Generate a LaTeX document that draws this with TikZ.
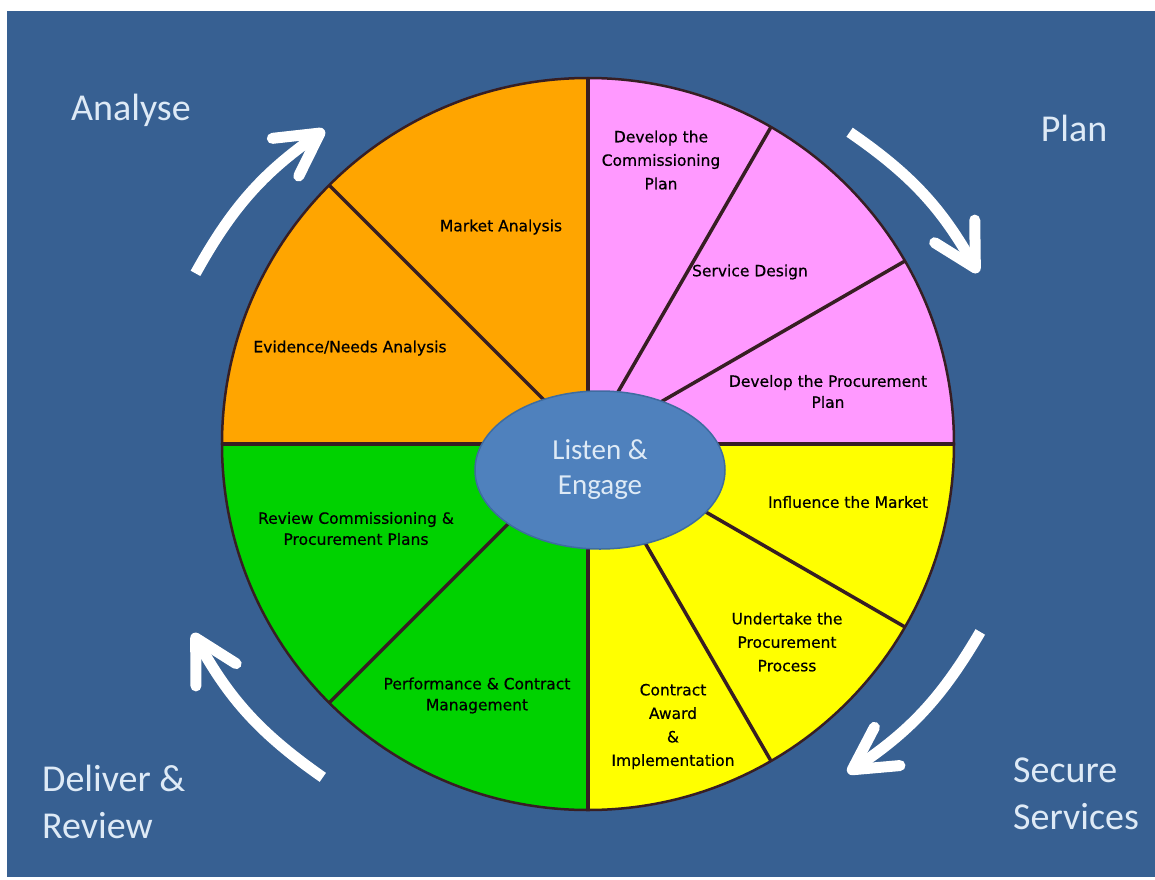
\documentclass[tikz,border=0pt]{standalone}
\usepackage{fontspec}
\setmainfont{DejaVu Sans}
\newfontfamily\sectfont[FakeBold=0.5]{DejaVu Sans}
\newfontfamily\calfont{Carlito}
\usetikzlibrary{arrows.meta,shapes.geometric}
\definecolor{bgblue}{RGB}{55,96,146}
\definecolor{orng}{RGB}{255,165,0}
\definecolor{pnk}{RGB}{255,153,255}
\definecolor{yllw}{RGB}{255,255,0}
\definecolor{grn}{RGB}{0,210,0}
\definecolor{hubblue}{RGB}{79,129,189}
\definecolor{hubline}{RGB}{62,108,160}
\definecolor{lbltext}{RGB}{222,234,246}
\definecolor{divline}{RGB}{55,30,35}

\begin{document}
\begin{tikzpicture}[x=1pt,y=1pt,
  sect/.style={align=center,inner sep=0pt,font=\sectfont\fontsize{15.5}{21}\selectfont},
  sectwide/.style={sect,font=\sectfont\fontsize{15.5}{23.5}\selectfont},
  phase/.style={align=left,inner sep=0pt,text=lbltext,font=\calfont\fontsize{38}{47}\selectfont},
  cyclearrow/.style={white,line width=11pt,-{Straight Barb[length=42pt,width=46pt,round]}}]
\useasboundingbox (-588,-435) rectangle (567,444);
\fill[white] (-588,-435) rectangle (567,444);
\fill[bgblue] (-581,-433) rectangle (567,433);
\fill[orng] (0,0) -- (90:366) arc (90:180:366) -- cycle;
\fill[grn] (0,0) -- (180:366) arc (180:270:366) -- cycle;
\fill[yllw] (0,0) -- (270:366) arc (270:360:366) -- cycle;
\fill[pnk] (0,0) -- (0:366) arc (0:90:366) -- cycle;
\foreach \a in {0,30,60,90,135,180,225,270,300,330}
  \draw[divline,line width=3.5pt] (0,0) -- (\a:366);
\draw[divline,line width=2.5pt] (0,0) circle (366);
\node (hub) at (12,-26) [ellipse,fill=hubblue,draw=hubline,line width=1.5pt,minimum width=250pt,minimum height=158pt,inner sep=0pt,align=center,text=lbltext,font=\calfont\fontsize{29}{35}\selectfont] {Listen \&\\Engage};
\node (market) at (-87,217) [sect] {Market Analysis};
\node (evidence) at (-238,96) [sect] {Evidence/Needs Analysis};
\node (commplan) at (73,284) [sectwide] {Develop the\\Commissioning\\Plan};
\node (design) at (162,172) [sect] {Service Design};
\node (procplan) at (240,52.5) [sect] {Develop the Procurement\\Plan};
\node (influence) at (260,-58) [sect] {Influence the Market};
\node (undertake) at (199,-198) [sectwide] {Undertake the\\Procurement\\Process};
\node (award) at (85,-282.5) [sectwide] {Contract\\Award\\\&\\Implementation};
\node (perform) at (-111,-251.5) [sect] {Performance \& Contract\\Management};
\node (review) at (-232,-84.5) [sect] {Review Commissioning \&\\Procurement Plans};
\node (analyse) at (-457,334) [phase] {Analyse};
\node (plan) at (486,316) [phase] {Plan};
\node (secure) at (425,-349.5) [phase,anchor=west] {Secure\\Services};
\node (deliver) at (-546,-357.5) [phase,anchor=west] {Deliver \&\\Review};
\coordinate (an0) at (156.5:428);
\coordinate (an1) at (130:410);
\coordinate (pl0) at (50:407);
\coordinate (pl1) at (23.7:426);
\coordinate (se0) at (-25.6:435);
\coordinate (se1) at (-51.7:419);
\coordinate (de0) at (231.5:426);
\coordinate (de1) at (205.6:438);
\draw[cyclearrow] (an0) to[bend left=13] (an1);
\draw[cyclearrow] (pl0) to[bend left=13] (pl1);
\draw[cyclearrow] (se0) to[bend left=13] (se1);
\draw[cyclearrow] (de0) to[bend left=13] (de1);
\end{tikzpicture}
\end{document}
